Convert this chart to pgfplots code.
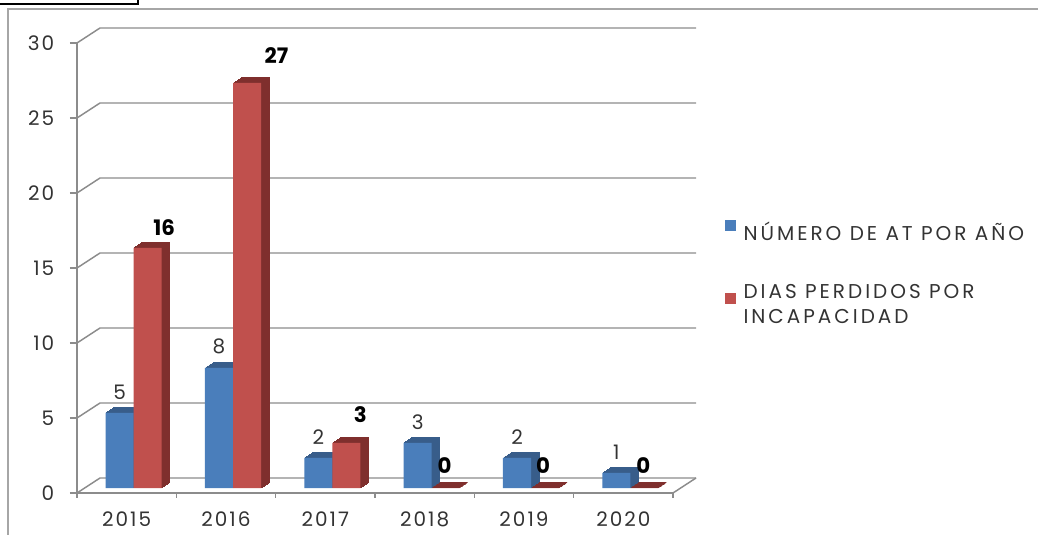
\documentclass[border=0pt]{standalone}
\usepackage{pgfplots}
\pgfplotsset{compat=1.18}
\usepackage{pgfplotstable}
\usepackage{fontspec}
\setmainfont{Poppins}
\newfontfamily\tickfont[LetterSpace=10]{Poppins}
\newfontfamily\legfont[LetterSpace=15]{Poppins}
\definecolor{bluefront}{HTML}{4A7EBB}
\definecolor{blueside}{HTML}{385D8A}
\definecolor{redfront}{HTML}{C0504D}
\definecolor{redside}{HTML}{7F2F2D}
\definecolor{gridc}{HTML}{8C8C8C}
\definecolor{framec}{HTML}{A6A6A6}
\definecolor{tickc}{HTML}{333333}

\pgfplotstableread{
x y
0 5
1 8
2 2
3 3
4 2
5 1
}\bluedata
\pgfplotstableread{
x y dx dy
0 16 16.5 0
1 27 29.5 7
2 3 14 8
3 0 -1 2
4 0 -2 2
5 0 -1 2
}\reddata

\begin{document}
\begin{tikzpicture}[x=1pt,y=1pt]
\useasboundingbox (0,0) rectangle (778.5,401.25);
\draw[framec, line width=1.5pt] (6,0) -- (6,394.5) -- (778.5,394.5);
\draw[black, line width=1.5pt] (-2,398.25) -- (103.5,398.25) -- (103.5,403);
\begin{axis}[
  at={(57.75pt,31.5pt)}, anchor=south west,
  scale only axis, width=447pt, height=337.5pt,
  xmin=-0.5, xmax=5.5, ymin=0, ymax=30,
  axis x line*=bottom, axis y line*=left,
  axis line style={gridc, line width=1.1pt},
  xtick={0,1,2,3,4,5},
  xticklabels={2015,2016,2017,2018,2019,2020},
  xtick style={draw=none},
  ytick={0,5,10,15,20,25,30},
  ytick style={gridc, line width=1.1pt},
  tick align=outside, major tick length=5.25pt,
  tick label style={font=\tickfont\fontsize{15}{17}\selectfont, text=tickc},
  xticklabel style={yshift=-5pt},
  yticklabel style={xshift=-8.25pt},
  /pgf/number format/assume math mode=true,
  clip=false,
  legend cell align=left,
  legend style={at={(1.0872,0.6067)}, anchor=north west, draw=none, fill=none,
    inner sep=0pt, outer sep=0pt, row sep=31.75pt, column sep=6pt,
    font=\legfont\fontsize{15}{18.75}\selectfont, text=tickc,
    nodes={inner sep=0pt, align=left}},
]
% 3D walls
\pgfplotsinvokeforeach{0,5,10,15,20,25,30}{
  \draw[gridc, line width=1.1pt] (axis cs:-0.5,#1) -- ([xshift=17.25pt,yshift=11.25pt]axis cs:-0.5,#1) -- ([xshift=17.25pt,yshift=11.25pt]axis cs:5.5,#1);
}
\draw[gridc, line width=1.1pt] (axis cs:5.5,0) -- ([xshift=17.25pt,yshift=11.25pt]axis cs:5.5,0);
\pgfplotsinvokeforeach{-0.5,0.5,1.5,2.5,3.5,4.5,5.5}{
  \draw[gridc, line width=1.1pt] (axis cs:#1,0) -- ([yshift=-3.75pt]axis cs:#1,0);
}
% blue bars
\pgfplotsinvokeforeach{8,7,6,5,4,3,2,1}{
  \addplot[ybar, bar width=0.282, bar shift=-0.141, fill=blueside, draw=blueside, line width=0.5pt,
    xshift={5.25pt+#1*0.75pt}, yshift={3.75pt+#1*0.4875pt}, forget plot] table[x=x,y=y]{\bluedata};
}
\addplot[ybar, bar width=0.282, bar shift=-0.141, fill=bluefront, draw=none,
  xshift=5.25pt, yshift=3.75pt, forget plot,
  nodes near coords,
  every node near coord/.append style={font=\tickfont\fontsize{15}{17}\selectfont, text=tickc, inner sep=0pt, anchor=south, xshift=-10.5pt, yshift=10.1pt}
  ] table[x=x,y=y]{\bluedata};
% red bars
\pgfplotsinvokeforeach{8,7,6,5,4,3,2,1}{
  \addplot[ybar, bar width=0.282, bar shift=0.141, fill=redside, draw=redside, line width=0.5pt,
    xshift={5.25pt+#1*0.75pt}, yshift={3.75pt+#1*0.4875pt}, forget plot] table[x=x,y=y]{\reddata};
}
\addplot[ybar, bar width=0.282, bar shift=0.141, fill=redfront, draw=none,
  xshift=5.25pt, yshift=3.75pt, forget plot,
  visualization depends on={\thisrow{dx} \as \dx},
  visualization depends on={\thisrow{dy} \as \dy},
  nodes near coords={\textbf{\pgfmathprintnumber{\pgfplotspointmeta}}},
  every node near coord/.append style={font=\fontsize{16}{18}\selectfont, text=black, inner sep=0pt, anchor=south,
     xshift={(14+\dx)*0.75pt}, yshift={(12.5+\dy)*0.75pt}}
  ] table[x=x,y=y]{\reddata};
% legend
\addlegendimage{legend image code/.code={\fill[bluefront] (0pt,1.5pt) rectangle (7.5pt,9pt);}}
\addlegendentry{NÚMERO DE AT POR AÑO}
\addlegendimage{legend image code/.code={\fill[redfront] (0pt,1.5pt) rectangle (7.5pt,9pt);}}
\addlegendentry{DIAS PERDIDOS POR\\INCAPACIDAD}
\end{axis}
\end{tikzpicture}
\end{document}
